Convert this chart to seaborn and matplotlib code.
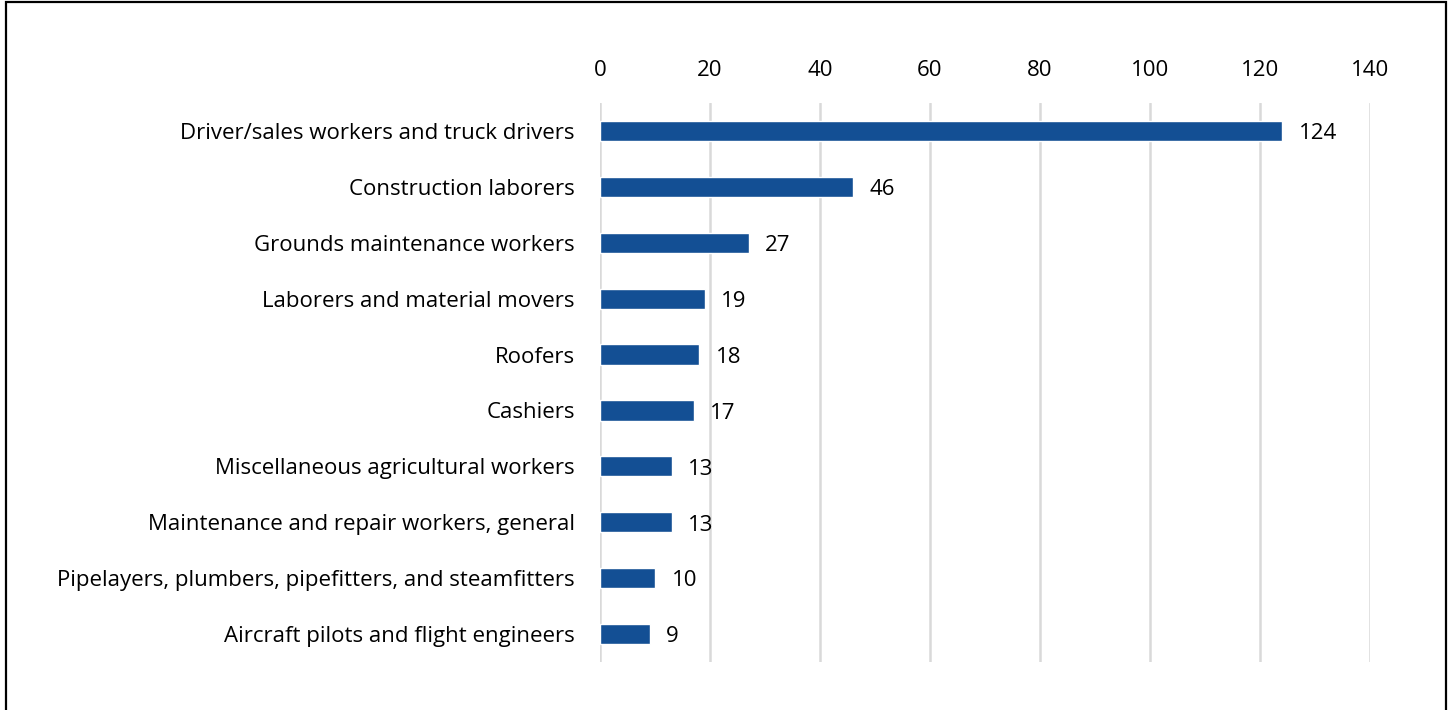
import matplotlib
matplotlib.use("Agg")
import matplotlib.pyplot as plt
import seaborn as sns
import pandas as pd
from matplotlib.patches import Polygon

categories = [
    "Driver/sales workers and truck drivers",
    "Construction laborers",
    "Grounds maintenance workers",
    "Laborers and material movers",
    "Roofers",
    "Cashiers",
    "Miscellaneous agricultural workers",
    "Maintenance and repair workers, general",
    "Pipelayers, plumbers, pipefitters, and steamfitters",
    "Aircraft pilots and flight engineers",
]
values = [124, 46, 27, 19, 18, 17, 13, 13, 10, 9]
xticks = [0, 20, 40, 60, 80, 100, 120, 140]

df = pd.DataFrame({"occupation": categories, "count": values})

sns.set_theme(style="white")
plt.rcParams["font.family"] = ["Open Sans", "DejaVu Sans"]

fig = plt.figure(figsize=(14.52, 7.10), dpi=100)
ax = fig.add_axes([600/1452, 1-662/710, 770/1452, 559/710])

sns.barplot(data=df, x="count", y="occupation", color="#134F94",
            saturation=1, width=0.36, ax=ax, orient="h")

ax.set_xlim(0, 140)
ax.set_ylim(9.5, -0.5)
ax.set_xticks(xticks)
ax.xaxis.tick_top()
ax.tick_params(axis="x", length=0, pad=16, labelsize=16, colors="black")
ax.tick_params(axis="y", length=0, pad=18, labelsize=16, colors="black")
ax.set_xlabel("")
ax.set_ylabel("")
for s in ax.spines.values():
    s.set_visible(False)
ax.grid(axis="x", color="#d9d9d9", linewidth=1.8)
ax.set_axisbelow(True)

for i, v in enumerate(values):
    ax.annotate(str(v), xy=(v, i), xytext=(12, -2), textcoords="offset points",
                va="center", ha="left", fontsize=16, color="black")

# frame border around the figure
fig.patches.append(Polygon([[6/1452, -0.05], [6/1452, 1-1.5/710], [1446/1452, 1-1.5/710], [1446/1452, -0.05]],
                           closed=False, fill=False, edgecolor="black", linewidth=1.6,
                           transform=fig.transFigure, figure=fig))

fig.savefig("out.png", dpi=100)
